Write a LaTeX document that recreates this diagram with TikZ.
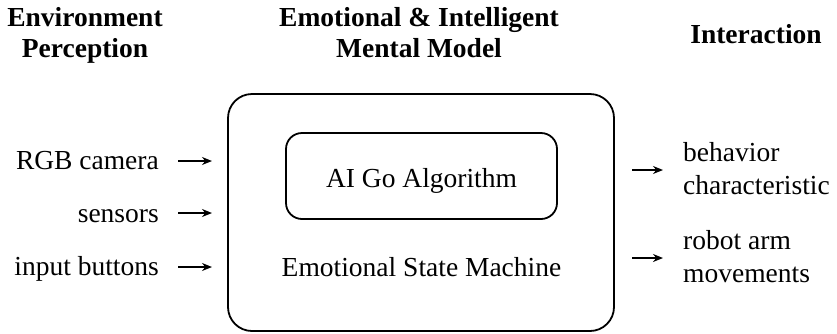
\documentclass[tikz,border=0pt]{standalone}
\usepackage{fontspec}
\setmainfont{Liberation Serif}
\usetikzlibrary{arrows.meta}
\begin{document}
\begin{tikzpicture}[x=1pt,y=-1pt,
  lbl/.style={font=\fontsize{27.5}{32.5}\selectfont, inner sep=0pt},
  head/.style={font=\fontsize{27.5}{30.8}\selectfont\bfseries, inner sep=0pt, align=center},
  frame/.style={draw, line width=1.8pt, rounded corners=#1, inner sep=0pt},
  arr/.style={-{Stealth[length=10pt,width=8pt]}, line width=1.6pt}]
\useasboundingbox (0,0) rectangle (837,333);

% column headings (base anchor = baseline of the last line)
\node[head, anchor=base] (hEnv) at (85,57.5) {Environment\\Perception};
\node[head, anchor=base] (hModel) at (419,57.5) {Emotional \& Intelligent\\Mental Model};
\node[head, anchor=base] (hInter) at (756,43) {Interaction};

% mental model frames
\node[frame=24pt, minimum width=386pt, minimum height=237pt] (outer) at (421,212.5) {};
\node[frame=16pt, minimum width=271pt, minimum height=86pt] (inner) at (421.5,176) {};
\node[lbl, anchor=base] (ai) at (421.5,187.3) {AI Go Algorithm};
\node[lbl, anchor=base] (esm) at (421.5,276.7) {Emotional State Machine};

% perception inputs
\node[lbl, anchor=base east] (rgb) at (159,169) {RGB camera};
\node[lbl, anchor=base east] (sens) at (159,222) {sensors};
\node[lbl, anchor=base east] (btn) at (159,275.5) {input buttons};
\coordinate (i1a) at (178,161); \coordinate (i1b) at (212,161);
\coordinate (i2a) at (178,213); \coordinate (i2b) at (212,213);
\coordinate (i3a) at (178,267); \coordinate (i3b) at (212,267);
\draw[arr] (i1a) -- (i1b);
\draw[arr] (i2a) -- (i2b);
\draw[arr] (i3a) -- (i3b);

% interaction outputs
\node[lbl, anchor=base west, align=left] (beh) at (683,194) {behavior\\characteristic};
\node[lbl, anchor=base west, align=left] (arm) at (683,282) {robot arm\\movements};
\coordinate (o1a) at (632,170); \coordinate (o1b) at (663,170);
\coordinate (o2a) at (632,258); \coordinate (o2b) at (663,258);
\draw[arr] (o1a) -- (o1b);
\draw[arr] (o2a) -- (o2b);
\end{tikzpicture}
\end{document}
